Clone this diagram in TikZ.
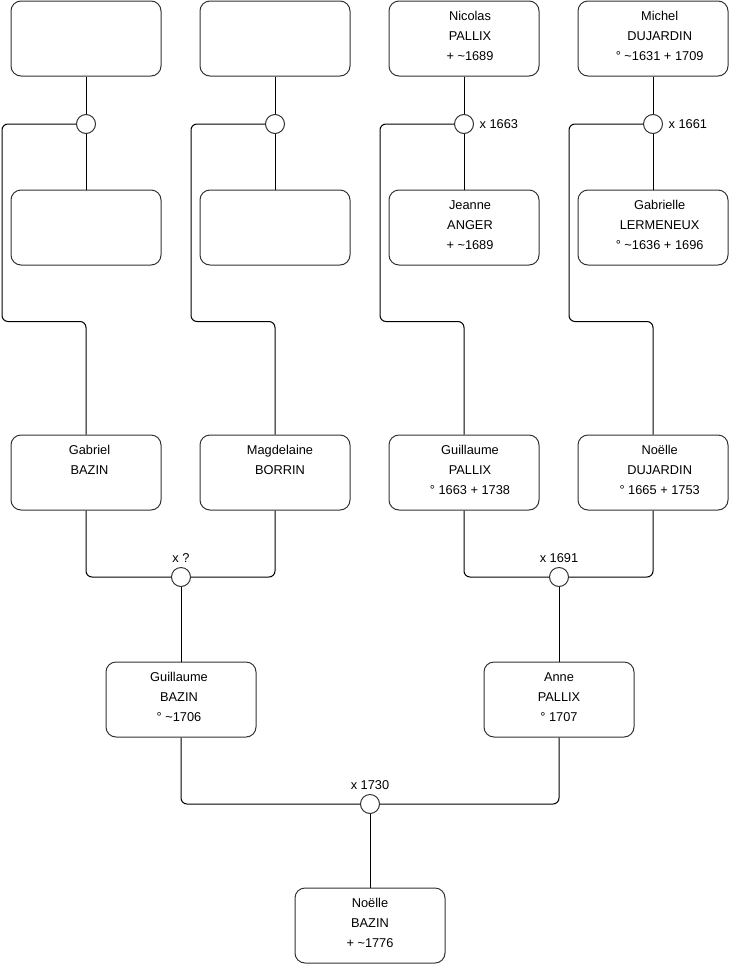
\documentclass[tikz,border=0pt]{standalone}
\usepackage{fontspec}
\setmainfont{Liberation Sans}
% optional argument: twice the horizontal shift of the text block
\newcommand\ptxt[2][0pt]{\parbox[c][56.25pt][t]{112.5pt}{\centering\leftskip=#1 plus 1fil\baselineskip=15pt\vspace*{4.2pt}#2\par}}
\tikzset{
  person/.style={draw=black!80, line width=0.75pt, rounded corners=7.5pt, minimum width=112.5pt, minimum height=56.25pt, inner sep=0pt, font=\fontsize{9.6pt}{15pt}\selectfont},
  union/.style={draw=black!80, line width=0.75pt, circle, minimum size=14.25pt, inner sep=0pt, fill=white},
  conn/.style={draw=black, line width=0.75pt, rounded corners=4.5pt},
  ulabel/.style={font=\fontsize{9.6pt}{11pt}\selectfont, inner sep=1pt}
}
\begin{document}
\begin{tikzpicture}[x=0.75pt,y=-0.75pt]
\useasboundingbox (0,0) rectangle (740,975);
% row 1
\node[person] (p1) at (86,38.5) {\ptxt{}};
\node[person] (p2) at (275,38.5) {\ptxt{}};
\node[person] (p3) at (464,38.5) {\ptxt[9pt]{\strut Nicolas\\\strut PALLIX\\\strut + \textasciitilde1689}};
\node[person] (p4) at (653,38.5) {\ptxt[10pt]{\strut Michel\\\strut DUJARDIN\\\strut ° \textasciitilde1631 + 1709}};
% row 2
\node[person] (q1) at (86,227.5) {\ptxt{}};
\node[person] (q2) at (275,227.5) {\ptxt{}};
\node[person] (q3) at (464,227.5) {\ptxt[9pt]{\strut Jeanne\\\strut ANGER\\\strut + \textasciitilde1689}};
\node[person] (q4) at (653,227.5) {\ptxt[10pt]{\strut Gabrielle\\\strut LERMENEUX\\\strut ° \textasciitilde1636 + 1696}};
% row 3
\node[person] (r1) at (86,472.5) {\ptxt[5.25pt]{\strut Gabriel\\\strut BAZIN}};
\node[person] (r2) at (275,472.5) {\ptxt[7.5pt]{\strut Magdelaine\\\strut BORRIN}};
\node[person] (r3) at (464,472.5) {\ptxt[9pt]{\strut Guillaume\\\strut PALLIX\\\strut ° 1663 + 1738}};
\node[person] (r4) at (653,472.5) {\ptxt[10pt]{\strut Noëlle\\\strut DUJARDIN\\\strut ° 1665 + 1753}};
% row 4
\node[person] (s1) at (181,699.5) {\ptxt[-3pt]{\strut Guillaume\\\strut BAZIN\\\strut ° \textasciitilde1706}};
\node[person] (s2) at (559,699.5) {\ptxt{\strut Anne\\\strut PALLIX\\\strut ° 1707}};
% row 5
\node[person] (t1) at (370,925.5) {\ptxt{\strut Noëlle\\\strut BAZIN\\\strut + \textasciitilde1776}};
% unions
\node[union] (u1) at (86,124) {};
\node[union] (u2) at (275,124) {};
\node[union] (u3) at (464,124) {};
\node[union] (u4) at (653,124) {};
\node[union] (u5) at (181,577) {};
\node[union] (u6) at (559,577) {};
\node[union] (u7) at (370,804) {};
% union labels
\node[ulabel, anchor=west] (l3) at ([xshift=3pt]u3.east) {x 1663};
\node[ulabel, anchor=west] (l4) at ([xshift=3pt]u4.east) {x 1661};
\node[ulabel, anchor=south] (l5) at ([yshift=2pt]u5.north) {x ?};
\node[ulabel, anchor=south] (l6) at ([yshift=2pt]u6.north) {x 1691};
\node[ulabel, anchor=south] (l7) at ([yshift=2pt]u7.north) {x 1730};
% couple lines
\foreach \a/\u/\b in {p1/u1/q1, p2/u2/q2, p3/u3/q3, p4/u4/q4}{
  \draw[conn] (\a.south) -- (\u.north);
  \draw[conn] (\u.south) -- (\b.north);
}
% descent lines
\draw[conn] (u1.west) -- (2,124) -- (2,321.5) -- (86,321.5) -- (r1.north);
\draw[conn] (u2.west) -- (191,124) -- (191,321.5) -- (275,321.5) -- (r2.north);
\draw[conn] (u3.west) -- (380,124) -- (380,321.5) -- (464,321.5) -- (r3.north);
\draw[conn] (u4.west) -- (569,124) -- (569,321.5) -- (653,321.5) -- (r4.north);
% generation 3 -> 4
\draw[conn] (r1.south) |- (u5.west);
\draw[conn] (r2.south) |- (u5.east);
\draw[conn] (r3.south) |- (u6.west);
\draw[conn] (r4.south) |- (u6.east);
\draw[conn] (u5.south) -- (s1.north);
\draw[conn] (u6.south) -- (s2.north);
% generation 4 -> 5
\draw[conn] (s1.south) |- (u7.west);
\draw[conn] (s2.south) |- (u7.east);
\draw[conn] (u7.south) -- (t1.north);
\end{tikzpicture}
\end{document}
